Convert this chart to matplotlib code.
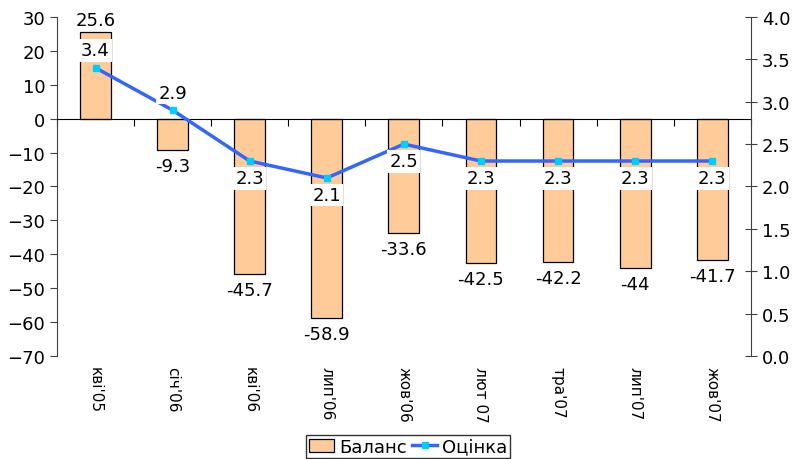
import matplotlib

matplotlib.use("Agg")
import matplotlib.pyplot as plt
import numpy as np

periods = ["кві'05", "січ'06", "кві'06", "лип'06", "жов'06",
           "лют 07", "тра'07", "лип'07", "жов'07"]
balance = [25.6, -9.3, -45.7, -58.9, -33.6, -42.5, -42.2, -44, -41.7]
estimate = [3.4, 2.9, 2.3, 2.1, 2.5, 2.3, 2.3, 2.3, 2.3]
# label position of each estimate value: above or below the point
est_label_above = [True, True, False, False, False, False, False, False, False]

plt.rcParams["font.family"] = ["DejaVu Sans"]
plt.rcParams["font.size"] = 12

fig = plt.figure(figsize=(7.97, 4.60), dpi=100)
ax = fig.add_axes([0.0715, 0.224, 0.8705, 0.737])
x = np.arange(len(periods))

ax.bar(x, balance, width=0.4, color="#ffcc99", edgecolor="black", linewidth=0.9,
       label="Баланс", zorder=2)
ax.set_xlim(-0.5, len(periods) - 0.5)
ax.set_ylim(-70, 30)
ax.set_yticks(np.arange(-70, 31, 10))
ax.spines["top"].set_visible(False)
ax.spines["right"].set_visible(False)
ax.spines["bottom"].set_position(("data", 0))
ax.spines["bottom"].set_linewidth(0.8)
ax.spines["left"].set_linewidth(0.8)
ax.spines["left"].set_color("#404040")
ax.set_xticks(np.arange(-0.5, len(periods), 1.0))
ax.set_xticklabels([])
ax.tick_params(axis="x", direction="out", length=5)
ax.tick_params(axis="y", direction="out", length=5, labelsize=13, color="#404040")

for xi, v in zip(x, balance):
    if v >= 0:
        ax.annotate(f"{v:g}", (xi, v), xytext=(0, 2), textcoords="offset points",
                    ha="center", va="bottom", fontsize=13)
    else:
        ax.annotate(f"{v:g}", (xi, v), xytext=(0, -5), textcoords="offset points",
                    ha="center", va="top", fontsize=13)

# category labels below the plot, rotated
for xi, lab in zip(x, periods):
    ax.text(xi, -73, lab, rotation=-90, ha="center", va="top", fontsize=11,
            clip_on=False)

ax2 = ax.twinx()
ax2.plot(x, estimate, color="#3366ff", linewidth=2.5, marker="s", markersize=5,
         markerfacecolor="#00ccff", markeredgecolor="#00ccff", label="Оцінка", zorder=3)
ax2.set_ylim(0, 4)
ax2.set_yticks(np.arange(0, 4.01, 0.5))
ax2.set_yticklabels([f"{t:.1f}" for t in np.arange(0, 4.01, 0.5)])
ax2.spines["top"].set_visible(False)
ax2.spines["left"].set_visible(False)
ax2.spines["bottom"].set_visible(False)
ax2.spines["right"].set_linewidth(0.8)
ax2.spines["right"].set_color("#404040")
ax2.tick_params(axis="y", direction="inout", length=9, labelsize=13, color="#404040")

for xi, v, above in zip(x, estimate, est_label_above):
    dy, va = (6, "bottom") if above else (-6, "top")
    ax2.annotate(f"{v:g}", (xi, v), xytext=(0, dy), textcoords="offset points",
                 ha="center", va=va, fontsize=13,
                 bbox=dict(boxstyle="square,pad=0.12", facecolor="white", edgecolor="none"))

h1, l1 = ax.get_legend_handles_labels()
h2, l2 = ax2.get_legend_handles_labels()
fig.legend(h1 + h2, l1 + l2, loc="center", bbox_to_anchor=(0.512, 0.027), ncol=2,
           frameon=True, fancybox=False, edgecolor="black", fontsize=13,
           handlelength=1.4, handletextpad=0.25, columnspacing=0.3, borderpad=0.15)

fig.savefig("out.png", dpi=100)
